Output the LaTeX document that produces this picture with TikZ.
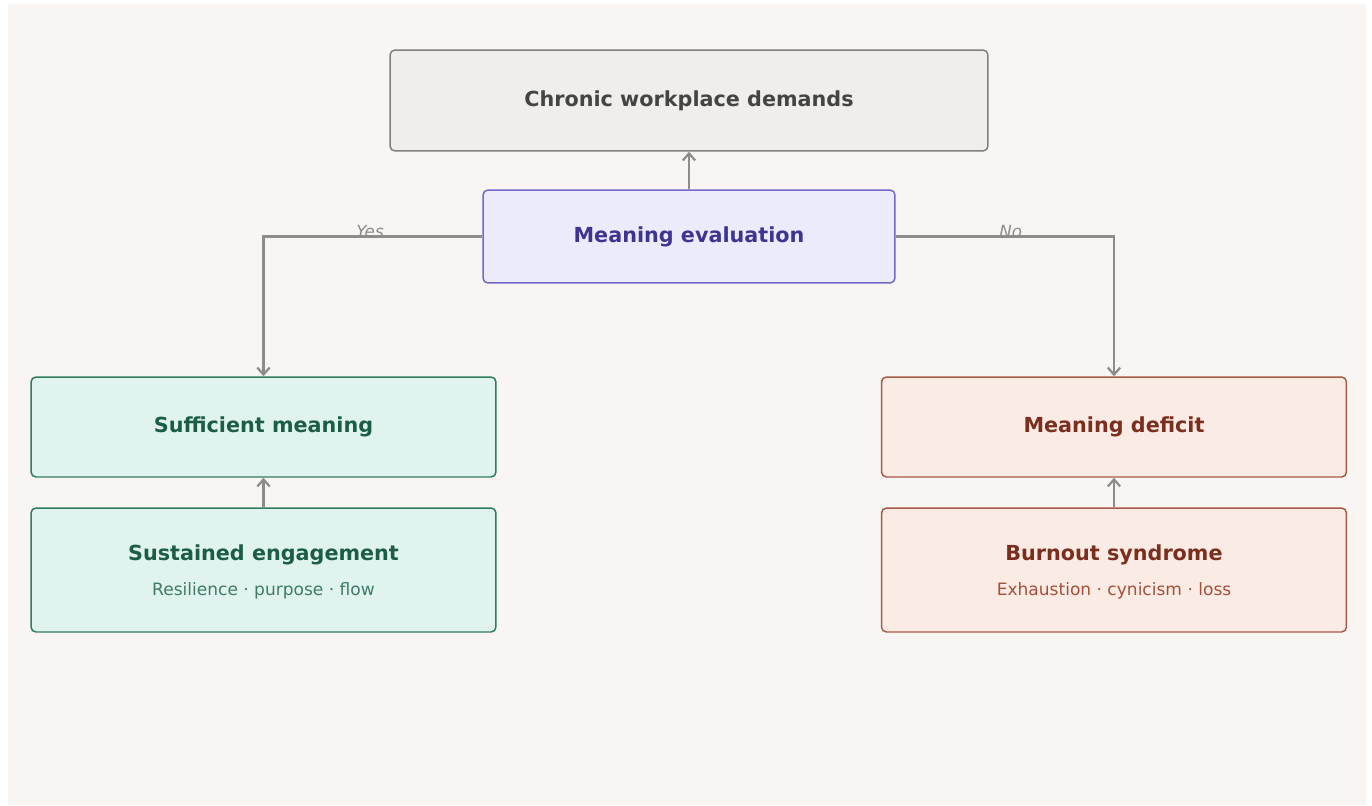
\documentclass[tikz,border=0pt]{standalone}
\usepackage{fontspec}
\setmainfont{DejaVu Sans}
\usetikzlibrary{arrows.meta}

\definecolor{bgcol}{HTML}{F8F5F2}
\definecolor{flowgray}{HTML}{8C8C8C}
\definecolor{topfill}{HTML}{F0EEEA}
\definecolor{topdraw}{HTML}{808080}
\definecolor{toptext}{HTML}{444444}
\definecolor{evalfill}{HTML}{EBEBFB}
\definecolor{evaldraw}{HTML}{7468C8}
\definecolor{evaltext}{HTML}{3D3590}
\definecolor{yesfill}{HTML}{E1F3EE}
\definecolor{yesdraw}{HTML}{2E7D5E}
\definecolor{yestext}{HTML}{1B5E45}
\definecolor{yessub}{HTML}{3D7D65}
\definecolor{nofill}{HTML}{FAEBE4}
\definecolor{nodraw}{HTML}{A85A48}
\definecolor{notext}{HTML}{7B2E1E}
\definecolor{nosub}{HTML}{A4503C}

\newcommand{\subtxt}{\fontsize{9.7}{12}\selectfont\mdseries}

\tikzset{
  box/.style={draw, rounded corners=2.8pt, line width=0.85pt, align=center,
    font=\fontsize{11.8}{14}\selectfont\bfseries},
  topbox/.style={box, fill=topfill, draw=topdraw, text=toptext,
    minimum width=11.96cm, minimum height=2.02cm},
  evalbox/.style={box, fill=evalfill, draw=evaldraw, text=evaltext,
    minimum width=8.24cm, minimum height=1.86cm},
  yesbox/.style={box, fill=yesfill, draw=yesdraw, text=yestext,
    minimum width=9.3cm},
  nobox/.style={box, fill=nofill, draw=nodraw, text=notext,
    minimum width=9.3cm},
  flow/.style={draw=flowgray, line width=1.25pt,
    -{Straight Barb[length=4pt,width=7pt]}},
  lbl/.style={text=flowgray, font=\fontsize{9.5}{11}\selectfont\itshape,
    yshift=0.09cm, xshift=0.03cm}
}

\begin{document}
\begin{tikzpicture}[x=0.02cm, y=-0.02cm]
      \useasboundingbox (0,0) rectangle (1372,805);
      \fill[bgcol] (8,4) rectangle (1366,805);

      \node[topbox] (demands) at (689,100.5) {Chronic workplace demands};
      \node[evalbox] (eval) at (689,236.5) {Meaning evaluation};

      \node[yesbox, minimum height=2cm] (enough) at (263.5,427) {Sufficient meaning};
      \node[yesbox, minimum height=2.48cm] (engage) at (263.5,570)
        {\rule{0pt}{11.2pt}Sustained engagement\\[6pt]{\subtxt\color{yessub}Resilience · purpose · flow}};

      \node[nobox, minimum height=2cm] (deficit) at (1114,427) {Meaning deficit};
      \node[nobox, minimum height=2.48cm] (burnout) at (1114,570)
        {\rule{0pt}{11.2pt}Burnout syndrome\\[6pt]{\subtxt\color{nosub}Exhaustion · cynicism · loss}};

      % arrows
      \draw[flow] (eval.north) -- (demands.south);
      \draw[flow] (eval.west) -| node[lbl, pos=0.26] {Yes} (enough.north);
      \draw[flow] (eval.east) -| node[lbl, pos=0.26] {No} (deficit.north);
      \draw[flow] (engage.north) -- (enough.south);
      \draw[flow] (burnout.north) -- (deficit.south);
    \end{tikzpicture}
\end{document}
